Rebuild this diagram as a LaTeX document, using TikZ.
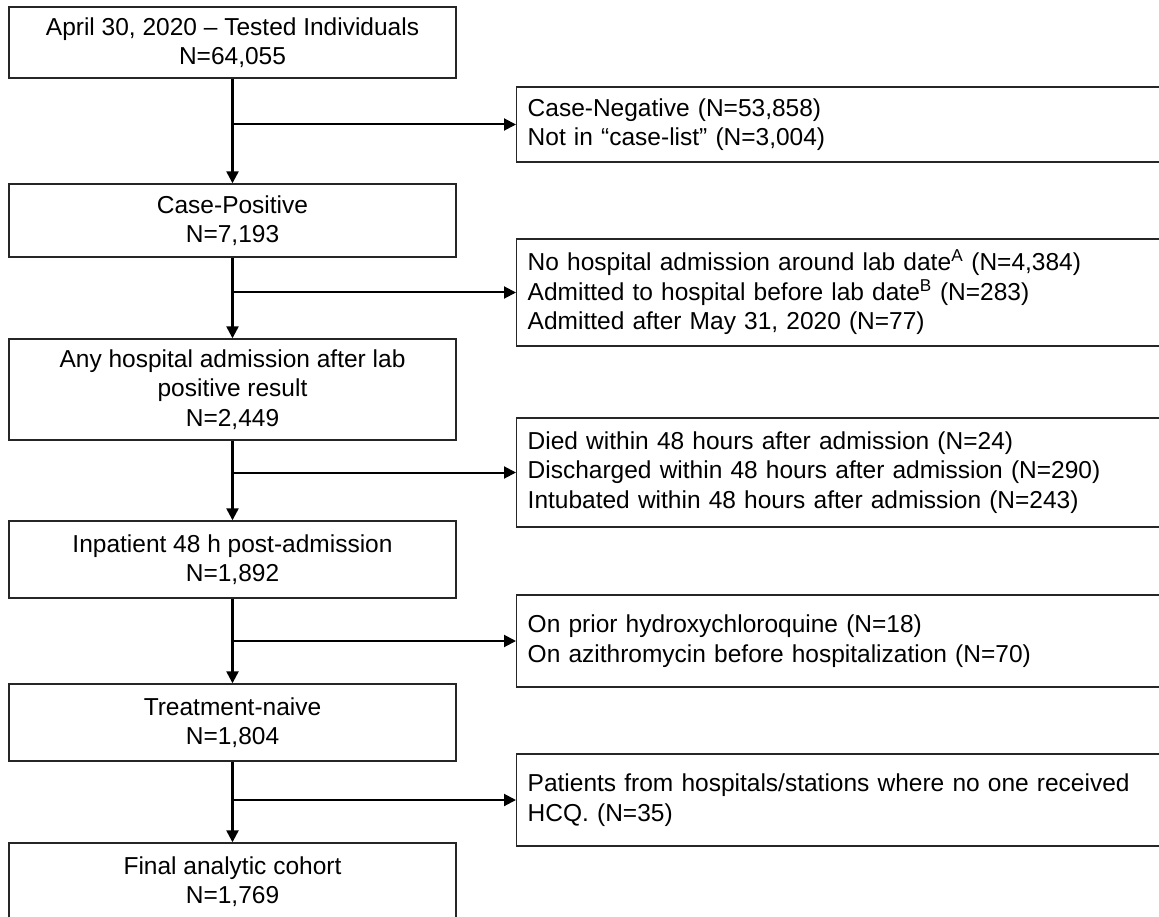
\documentclass[tikz,border=0pt]{standalone}
\usepackage{fontspec}
\setmainfont{Liberation Sans}
\usetikzlibrary{arrows.meta}
\begin{document}
\begin{tikzpicture}[x=1pt,y=-1pt,
  font=\fontsize{24.5pt}{29.5pt}\selectfont,
  mainbox/.style={draw=black!85, line width=1.4pt, minimum width=447pt, align=center, inner sep=0pt},
  sidebox/.style={draw=black!85, line width=1.4pt, anchor=west, text width=630pt, align=left, inner xsep=11pt, inner ysep=0pt},
  flow/.style={line width=2.4pt, -{Triangle[length=12pt,width=12pt]}},
  branch/.style={line width=2pt, -{Triangle[length=12pt,width=12pt]}}]
\useasboundingbox (0,0) rectangle (1159,917);
\clip (0,0) rectangle (1159,917);
\fill[white] (0,0) rectangle (1159,917);

\node[mainbox, minimum height=71pt] (b1) at (232.5,42.5) {April 30, 2020 -- Tested Individuals\\N=64,055};
\node[mainbox, minimum height=73pt] (b2) at (232.5,220.5) {Case-Positive\\N=7,193};
\node[mainbox, minimum height=101pt] (b3) at (232.5,389.5) {Any hospital admission after lab\\positive result\\N=2,449};
\node[mainbox, minimum height=77pt] (b4) at (232.5,559.5) {Inpatient 48 h post-admission\\N=1,892};
\node[mainbox, minimum height=77pt] (b5) at (232.5,722.5) {Treatment-naive\\N=1,804};
\node[mainbox, minimum height=77pt] (b6) at (232.5,881.5) {Final analytic cohort\\N=1,769};

\node[sidebox, minimum height=75pt] (r1) at (516,124.5) {Case-Negative (N=53,858)\\Not in “case-list” (N=3,004)};
\node[sidebox, minimum height=107pt] (r2) at (516,292.5) {No hospital admission around lab date\textsuperscript{A} (N=4,384)\\Admitted to hospital before lab date\textsuperscript{B} (N=283)\\Admitted after May 31, 2020 (N=77)};
\node[sidebox, minimum height=109pt] (r3) at (516,472.5) {Died within 48 hours after admission (N=24)\\Discharged within 48 hours after admission (N=290)\\Intubated within 48 hours after admission (N=243)};
\node[sidebox, minimum height=92pt] (r4) at (516,641) {On prior hydroxychloroquine (N=18)\\On azithromycin before hospitalization (N=70)};
\node[sidebox, minimum height=92pt] (r5) at (516,800) {Patients from hospitals/stations where no one received\\HCQ. (N=35)};

\foreach \a/\b/\r in {b1/b2/r1, b2/b3/r2, b3/b4/r3, b4/b5/r4, b5/b6/r5} {
  \draw[flow] (\a.south) -- (\b.north);
  \draw[branch] (\a.south |- \r.west) -- (\r.west);
}
\end{tikzpicture}
\end{document}
